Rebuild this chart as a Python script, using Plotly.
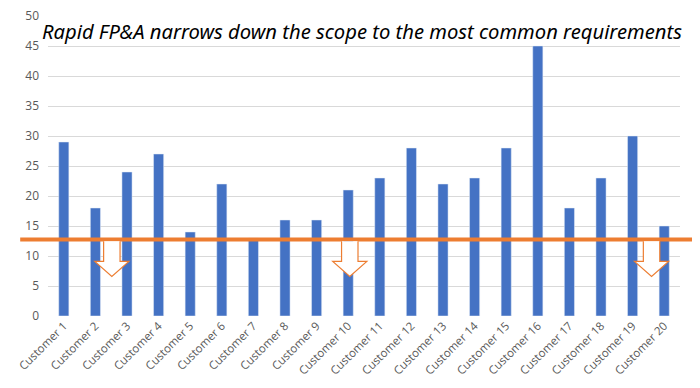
import plotly.graph_objects as go

customers = [f"Customer {i}" for i in range(1, 21)]
values = [29, 18, 24, 27, 14, 22, 13, 16, 16, 21, 23, 28, 22, 23, 28, 45, 18, 23, 30, 15]
threshold = 12.75
arrow_positions = [1.52, 9.05, 18.6]  # category-index positions of the down arrows
title_text = "Rapid FP&A narrows down the scope to the most common requirements"

fig = go.Figure()
fig.add_trace(go.Bar(x=list(range(len(customers))), y=values, marker_color="#4472C4",
                     width=0.32, hoverinfo="skip"))

shapes = [dict(type="line", xref="paper", yref="y", x0=-0.044, x1=1.024,
               y0=threshold, y1=threshold, line=dict(color="#ED7D31", width=4), layer="above")]

tip_y, head_y = 6.6, 9.1
for cx in arrow_positions:
    sw, hw = 0.26, 0.54
    path = (f"M {cx-sw} {threshold-0.3} L {cx-sw} {head_y} L {cx-hw} {head_y} L {cx} {tip_y} "
            f"L {cx+hw} {head_y} L {cx+sw} {head_y} L {cx+sw} {threshold-0.3}")
    shapes.append(dict(type="path", xref="x", yref="y", path=path,
                       fillcolor="white", line=dict(color="#ED7D31", width=1.2), layer="above"))

fig.update_layout(
    width=700, height=388,
    margin=dict(l=40, r=28, t=8, b=80),
    paper_bgcolor="white", plot_bgcolor="white",
    showlegend=False,
    shapes=shapes,
    annotations=[dict(text=title_text, xref="paper", yref="paper", x=0.497, y=0.95,
                      xanchor="center", yanchor="middle", showarrow=False,
                      font=dict(family="Noto Sans", size=20.2, color="black", style="italic"))],
    xaxis=dict(tickmode="array", tickvals=list(range(len(customers))), ticktext=customers,
               tickangle=-45, range=[-0.5, 19.5], showgrid=False, zeroline=False,
               showline=False, ticks="", automargin=False, ticklabeloverflow="allow",
               tickfont=dict(family="Open Sans", size=11.5, color="#595959")),
    yaxis=dict(range=[0, 50], dtick=5, showgrid=True, gridcolor="#D9D9D9", gridwidth=1,
               zeroline=False, showline=False, ticks="", automargin=False,
               ticklabeloverflow="allow", ticklabelstandoff=8,
               tickfont=dict(family="Open Sans", size=12, color="#595959")),
)

fig.write_html("out.html")
